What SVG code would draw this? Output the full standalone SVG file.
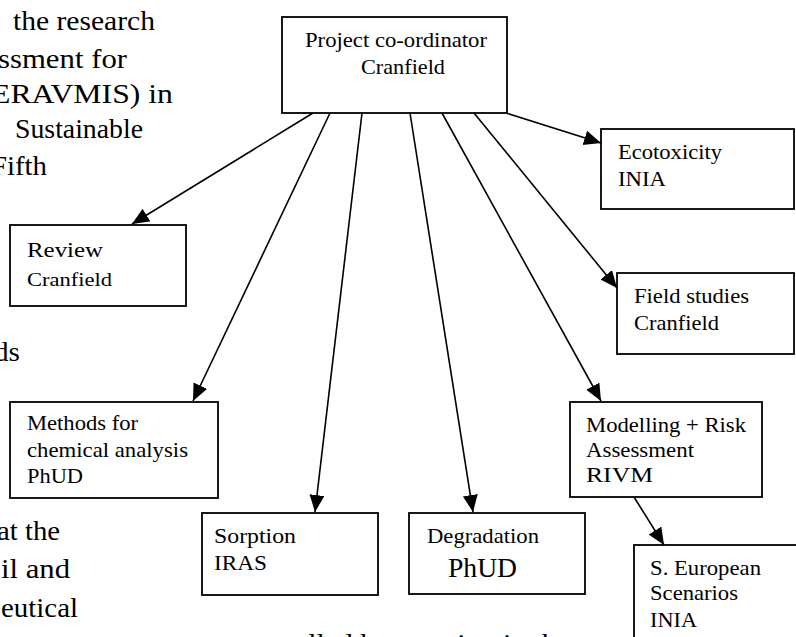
<svg xmlns="http://www.w3.org/2000/svg" width="796" height="637" viewBox="0 0 796 637">
<style>
.bg{font-family:"Liberation Serif","Times New Roman",serif;font-size:27px;fill:#000}
.t{font-family:"Liberation Serif","Times New Roman",serif;font-size:21px;fill:#000}
.s{font-size:19px}
.b{font-size:27px}
.box{fill:#fff;stroke:#000;stroke-width:1.8}
.c{stroke:#000;stroke-width:1.6;fill:none;marker-end:url(#ah)}
</style>
<defs>
<marker id="ah" markerUnits="userSpaceOnUse" markerWidth="18" markerHeight="16" refX="17" refY="7.5" orient="auto">
<path d="M0,0 L17,7.5 L0,15 z" fill="#000"/>
</marker>
</defs>
<rect width="796" height="637" fill="#fff"/>
<g id="background-text">
<text class="bg" x="13" y="30" textLength="142" lengthAdjust="spacingAndGlyphs">the research</text>
<text class="bg" x="-2" y="68" textLength="129" lengthAdjust="spacingAndGlyphs">ssment for</text>
<text class="bg" x="-9" y="103" textLength="182" lengthAdjust="spacingAndGlyphs">ERAVMIS) in</text>
<text class="bg" x="15" y="138" textLength="128" lengthAdjust="spacingAndGlyphs">Sustainable</text>
<text class="bg" x="-9" y="175" textLength="56" lengthAdjust="spacingAndGlyphs">Fifth</text>
<text class="bg" x="-6" y="361" textLength="26" lengthAdjust="spacingAndGlyphs">ds</text>
<text class="bg" x="-3" y="540" textLength="63" lengthAdjust="spacingAndGlyphs">at the</text>
<text class="bg" x="1" y="578" textLength="69" lengthAdjust="spacingAndGlyphs">il and</text>
<text class="bg" x="1" y="617" textLength="77" lengthAdjust="spacingAndGlyphs">eutical</text>
<text class="bg" x="232" y="653" textLength="338" lengthAdjust="spacingAndGlyphs">controlled by sorption in the</text>
</g>
<g id="connectors">
<line class="c" x1="313" y1="113" x2="132" y2="224"/>
<line class="c" x1="330" y1="113" x2="193" y2="401"/>
<line class="c" x1="362" y1="113" x2="315" y2="512"/>
<line class="c" x1="410" y1="113" x2="473" y2="512"/>
<line class="c" x1="442" y1="113" x2="601" y2="401"/>
<line class="c" x1="474" y1="113" x2="617" y2="288"/>
<line class="c" x1="506" y1="113" x2="601" y2="143"/>
<line class="c" x1="634" y1="497" x2="664" y2="545"/>
</g>
<g id="project">
<rect class="box" x="282" y="17" width="225" height="96"/>
<text class="t" x="305" y="47" textLength="182" lengthAdjust="spacingAndGlyphs">Project co-ordinator</text>
<text class="t" x="361" y="74" textLength="84" lengthAdjust="spacingAndGlyphs">Cranfield</text>
</g>
<g id="review">
<rect class="box" x="10" y="225" width="176" height="81"/>
<text class="t" x="27" y="257" textLength="76" lengthAdjust="spacingAndGlyphs">Review</text>
<text class="t s" x="27" y="286" textLength="85" lengthAdjust="spacingAndGlyphs">Cranfield</text>
</g>
<g id="methods">
<rect class="box" x="10" y="402" width="208" height="96"/>
<text class="t" x="27" y="430" textLength="111" lengthAdjust="spacingAndGlyphs">Methods for</text>
<text class="t" x="27" y="457" textLength="161" lengthAdjust="spacingAndGlyphs">chemical analysis</text>
<text class="t" x="27" y="483" textLength="56" lengthAdjust="spacingAndGlyphs">PhUD</text>
</g>
<g id="sorption">
<rect class="box" x="202" y="513" width="176" height="82"/>
<text class="t" x="214" y="543" textLength="82" lengthAdjust="spacingAndGlyphs">Sorption</text>
<text class="t" x="214" y="570" textLength="53" lengthAdjust="spacingAndGlyphs">IRAS</text>
</g>
<g id="degradation">
<rect class="box" x="409" y="513" width="176" height="81"/>
<text class="t" x="427" y="543" textLength="112" lengthAdjust="spacingAndGlyphs">Degradation</text>
<text class="t b" x="448" y="577" textLength="69" lengthAdjust="spacingAndGlyphs">PhUD</text>
</g>
<g id="modelling">
<rect class="box" x="570" y="402" width="192" height="95"/>
<text class="t" x="586" y="432" textLength="160" lengthAdjust="spacingAndGlyphs">Modelling + Risk</text>
<text class="t" x="586" y="457" textLength="108" lengthAdjust="spacingAndGlyphs">Assessment</text>
<text class="t" x="586" y="482" textLength="67" lengthAdjust="spacingAndGlyphs">RIVM</text>
</g>
<g id="ecotoxicity">
<rect class="box" x="601" y="129" width="193" height="80"/>
<text class="t" x="618" y="159" textLength="104" lengthAdjust="spacingAndGlyphs">Ecotoxicity</text>
<text class="t" x="618" y="186" textLength="48" lengthAdjust="spacingAndGlyphs">INIA</text>
</g>
<g id="field-studies">
<rect class="box" x="617" y="273" width="177" height="81"/>
<text class="t" x="634" y="303" textLength="115" lengthAdjust="spacingAndGlyphs">Field studies</text>
<text class="t" x="634" y="330" textLength="85" lengthAdjust="spacingAndGlyphs">Cranfield</text>
</g>
<g id="s-european">
<rect class="box" x="634" y="545" width="200" height="120"/>
<text class="t" x="650" y="575" textLength="111" lengthAdjust="spacingAndGlyphs">S. European</text>
<text class="t" x="650" y="600" textLength="88" lengthAdjust="spacingAndGlyphs">Scenarios</text>
<text class="t" x="650" y="627" textLength="47" lengthAdjust="spacingAndGlyphs">INIA</text>
</g>
</svg>
